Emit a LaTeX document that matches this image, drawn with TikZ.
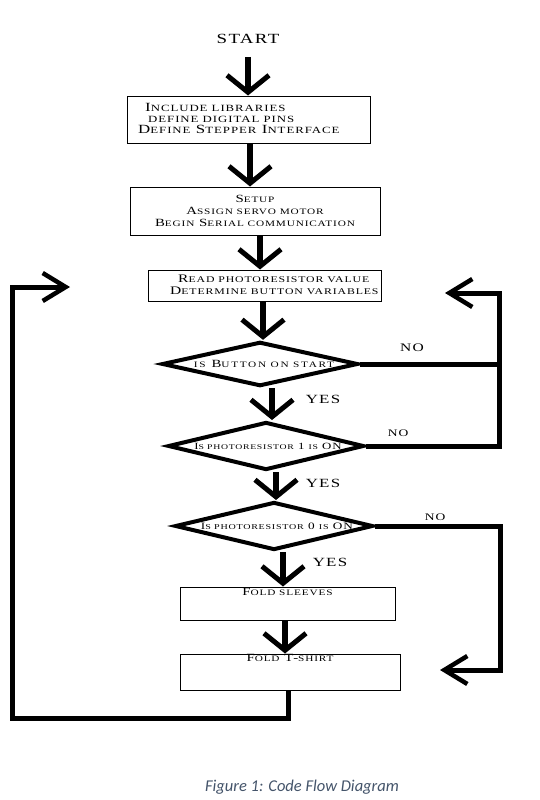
\documentclass[tikz,border=0pt]{standalone}
\usepackage{fontspec}
\newfontfamily\capfont{Carlito}
\newfontfamily\tnr[FakeStretch=1.35,LetterSpace=10]{Liberation Serif}
\usetikzlibrary{arrows.meta,shapes.geometric}
\definecolor{capblue}{HTML}{44546A}
\makeatletter
\newcommand\sm[1]{{\fontsize{\the\dimexpr 0.76\dimexpr\f@size pt\relax\relax}{\f@baselineskip}\selectfont #1}}
\makeatother
\tikzset{
  box/.style={draw, line width=1pt, rectangle, inner sep=0pt},
  dia/.style={draw, line width=4pt, diamond, inner sep=0pt, aspect=4, line join=miter},
  txt/.style={inner sep=0pt, font=\tnr\fontsize{#1}{12}\selectfont},
  downtip/.style={-{Straight Barb[length=17pt,width=42pt,line width=5pt]}},
  sidetip/.style={-{Straight Barb[length=23pt,width=28pt,line width=4.5pt]}},
  flow/.style={line width=5.5pt, downtip},
  loopline/.style={line width=5pt, line join=miter},
}
\begin{document}
\begin{tikzpicture}[x=1pt,y=-1pt]
\useasboundingbox (0,0) rectangle (540,800);
% spine x positions
\coordinate (s1) at (248,0);
\coordinate (s2) at (250,0);
\coordinate (s3) at (260,0);
\coordinate (s4) at (263,0);
\coordinate (s5) at (272,0);
\coordinate (s6) at (276,0);
\coordinate (s7) at (283,0);
\coordinate (s8) at (285,0);
% boxes and decisions
\node[txt=14] (start) at (248,39) {START};
\node[box, minimum width=243pt, minimum height=47pt] (b1) at (248.5,119.5) {};
\node[inner sep=0pt, anchor=west, align=left, font=\tnr\fontsize{12.5}{11}\selectfont] (b1t) at (138,118.5)
  {\hspace*{7pt}I\sm{NCLUDE LIBRARIES}\\\hspace*{10pt}\sm{DEFINE DIGITAL PINS}\\D\sm{EFINE} S\sm{TEPPER} I\sm{NTERFACE}};
\node[box, minimum width=250pt, minimum height=48pt, align=center, txt=11] (b2) at (255,211)
  {S\sm{ETUP}\\A\sm{SSIGN SERVO MOTOR}\\B\sm{EGIN} S\sm{ERIAL COMMUNICATION}};
\node[box, minimum width=233pt, minimum height=31pt] (b3) at (264.5,285.5) {};
\node[txt=11.5, anchor=west, align=left] (b3t) at (170,285)
  {\hspace*{8pt}R\sm{EAD PHOTORESISTOR VALUE}\\D\sm{ETERMINE BUTTON VARIABLES}};
\node[dia, minimum width=196pt, minimum height=44pt, font=\tnr\fontsize{11}{12}\selectfont\addfontfeature{LetterSpace=20}] (d1) at (260,364) {\hspace*{8pt}\sm{IS} B\sm{UTTON ON START}};
\node[dia, minimum width=196pt, minimum height=48pt, txt=9.5] (d2) at (266,446) {\hspace*{4pt}I\sm{S PHOTORESISTOR} 1 \sm{IS} ON};
\node[dia, minimum width=198pt, minimum height=48pt, txt=9.8] (d3) at (274,526) {\hspace*{6pt}I\sm{S PHOTORESISTOR} 0 \sm{IS} ON};
\node[box, minimum width=215pt, minimum height=33pt] (b4) at (287.5,603.5) {};
\node[txt=11, anchor=north] (b4t) at ([yshift=-2pt]b4.north) {F\sm{OLD SLEEVES}};
\node[box, minimum width=220pt, minimum height=36pt] (b5) at (290,672) {};
\node[txt=11, anchor=north] (b5t) at ([yshift=-0.5pt]b5.north) {F\sm{OLD} T-\sm{SHIRT}};
% labels
\node[txt=11.5] (no1) at (412,348) {NO};
\node[txt=10] (no2) at (398,433) {NO};
\node[txt=10] (no3) at (435,517) {NO};
\node[txt=12.5] (yes1) at (323,399) {YES};
\node[txt=12.5] (yes2) at (323,483) {YES};
\node[txt=12.5] (yes3) at (330,562) {YES};
\node[font=\capfont\itshape\fontsize{16.5}{16.5}\selectfont, text=capblue, inner sep=0pt] (cap) at (302,787) {Figure 1: Code Flow Diagram};
% loop coordinates
\coordinate (r1) at (499,293);
\coordinate (t1) at (445,293);
\coordinate (r3) at (500,670);
\coordinate (t3) at (440,670);
\coordinate (e1) at (288,718);
\coordinate (l1) at (12,287);
\coordinate (t4) at (70,287);
% main flow
\draw[flow] (start.south -| s1) ++(0,13) -- (b1.north -| s1);
\draw[flow] (b1.south -| s2) -- (b2.north -| s2);
\draw[flow] (b2.south -| s3) -- (b3.north -| s3);
\draw[flow] (b3.south -| s4) -- (d1.north -| s4);
\draw[flow] (d1.south -| s5) -- (d2.north -| s5);
\draw[flow] (d2.south -| s6) -- (d3.north -| s6);
\draw[flow] (d3.south -| s7) -- (b4.north -| s7);
\draw[flow] (b4.south -| s8) -- (b5.north -| s8);
% loops
\draw[loopline, sidetip] (d1.east) -| (r1) -- (t1);
\draw[loopline] (d2.east) -| (r1);
\draw[loopline, sidetip] (d3.east) -| (r3) -- (t3);
\draw[loopline, sidetip] (b5.south -| e1) -- (e1) -| (l1) -- (t4);
\end{tikzpicture}
\end{document}
